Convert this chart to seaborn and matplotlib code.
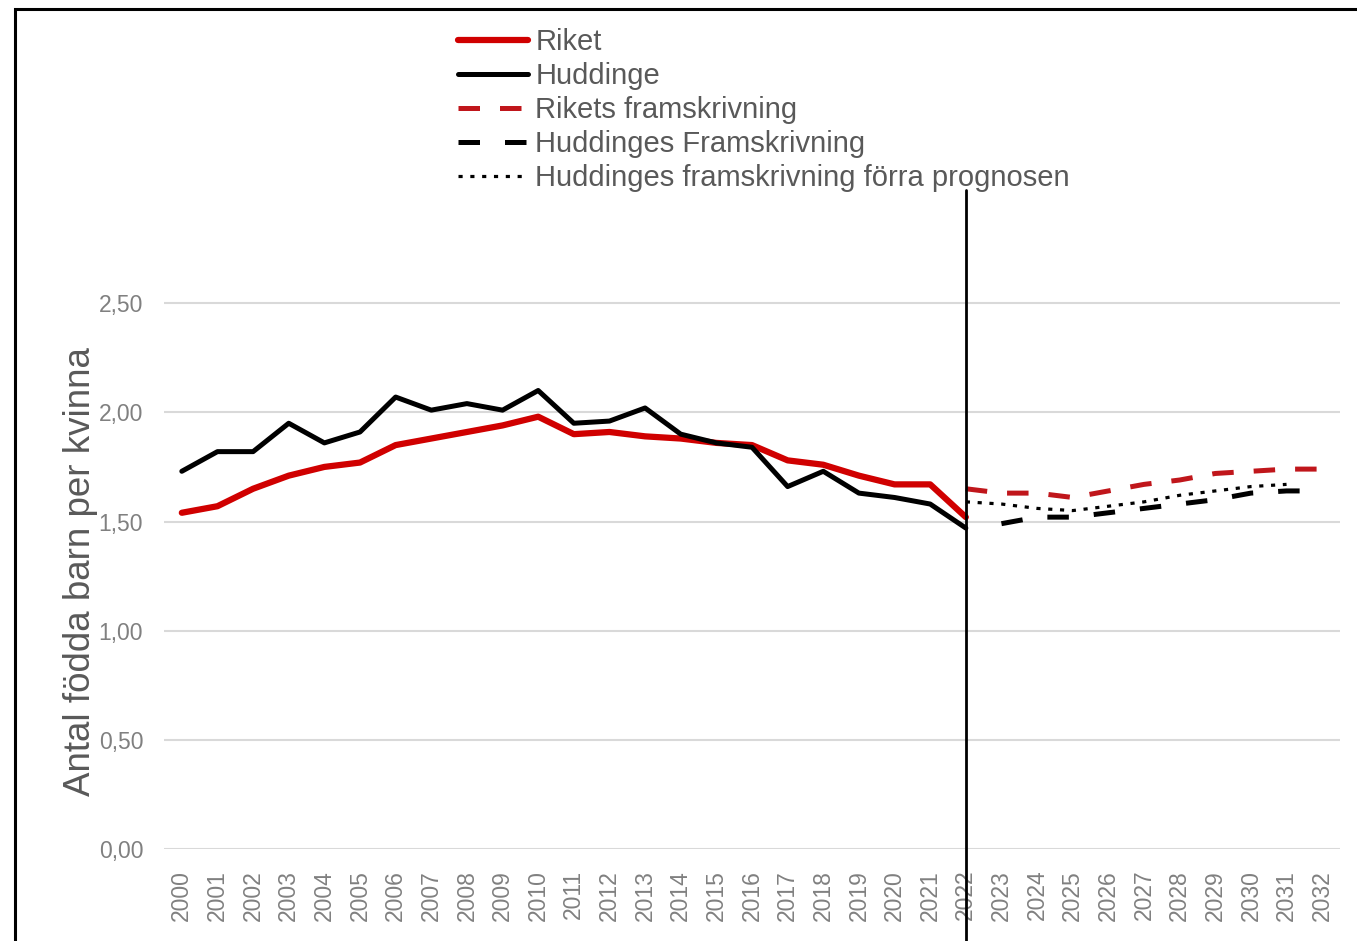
import numpy as np
import pandas as pd
import matplotlib
matplotlib.use("Agg")
import matplotlib.pyplot as plt
from matplotlib.patches import Rectangle
import seaborn as sns

# Summerad fruktsamhet, Riket och Huddinge
years_hist = list(range(2000, 2023))
riket = [1.54, 1.57, 1.65, 1.71, 1.75, 1.77, 1.85, 1.88, 1.91, 1.94, 1.98, 1.90,
         1.91, 1.89, 1.88, 1.86, 1.85, 1.78, 1.76, 1.71, 1.67, 1.67, 1.52]
huddinge = [1.73, 1.82, 1.82, 1.95, 1.86, 1.91, 2.07, 2.01, 2.04, 2.01, 2.10, 1.95,
            1.96, 2.02, 1.90, 1.86, 1.84, 1.66, 1.73, 1.63, 1.61, 1.58, 1.47]

years_riket_fs = list(range(2022, 2033))
riket_fs = [1.65, 1.63, 1.63, 1.61, 1.64, 1.67, 1.69, 1.72, 1.73, 1.74, 1.74]

years_hudd_fs = list(range(2023, 2033))
hudd_fs = [1.49, 1.52, 1.52, 1.54, 1.56, 1.58, 1.60, 1.63, 1.64, 1.64]

years_hudd_prev = list(range(2022, 2032))
hudd_prev = [1.59, 1.58, 1.56, 1.55, 1.57, 1.59, 1.62, 1.64, 1.66, 1.67]

all_years = list(range(2000, 2033))
y_ticks = [0.0, 0.5, 1.0, 1.5, 2.0, 2.5]
y_ticklabels = ["0,00", "0,50", "1,00", "1,50", "2,00", "2,50"]

sns.set_style("white")
plt.rcParams['font.family'] = ['Liberation Sans', 'DejaVu Sans']

fig = plt.figure(figsize=(13.57, 9.41), dpi=100)
ax = fig.add_axes([164 / 1357, 1 - 849 / 941, 1176 / 1357, 655 / 941])

red = '#D00000'
red_fs = '#C0161B'

sns.lineplot(x=years_hist, y=riket, ax=ax, color=red, linewidth=4.5, label='Riket')
sns.lineplot(x=years_hist, y=huddinge, ax=ax, color='black', linewidth=3.6, label='Huddinge')
sns.lineplot(x=years_riket_fs, y=riket_fs, ax=ax, color=red_fs, linewidth=3.6,
             label='Rikets framskrivning')
ax.lines[-1].set_dashes((4.3, 4.0))
sns.lineplot(x=years_hudd_fs, y=hudd_fs, ax=ax, color='black', linewidth=3.6,
             label='Huddinges Framskrivning')
ax.lines[-1].set_dashes((4.3, 5.0))
sns.lineplot(x=years_hudd_prev, y=hudd_prev, ax=ax, color='black', linewidth=2.3,
             label='Huddinges framskrivning förra prognosen')
ax.lines[-1].set_dashes((1.3, 2.4))

handles, labels = ax.get_legend_handles_labels()
if ax.legend_ is not None:
    ax.legend_.remove()

# vertical separator at the last observed year
ax.plot([2022, 2022], [-0.42, 3.02], color='black', linewidth=2.0, clip_on=False)

ax.set_xlim(1999.5, 2032.5)
ax.set_ylim(0, 3.0)
ax.set_xticks(all_years)
ax.set_xticklabels([str(y) for y in all_years], rotation=90)
ax.set_yticks(y_ticks)
ax.set_yticklabels(y_ticklabels)
ax.tick_params(axis='x', length=0, pad=15, labelsize=16.5, labelcolor='#808080')
ax.tick_params(axis='y', length=0, pad=15, labelsize=16.5, labelcolor='#808080')
ax.yaxis.grid(True, color='#D9D9D9', linewidth=1.5)
ax.xaxis.grid(False)
ax.set_axisbelow(True)
for s in ax.spines.values():
    s.set_visible(False)

ax.set_xlabel('')
ax.set_ylabel('Antal födda barn per kvinna', fontsize=26.5, color='#595959')
ax.yaxis.set_label_coords(-0.056, 0.423)

fig.legend(handles, labels, loc='upper left', bbox_to_anchor=(458 / 1357, 1 - 28.5 / 941),
           frameon=False, fontsize=21, labelcolor='#595959', handlelength=2.4,
           handletextpad=0.25, labelspacing=0.20, borderpad=0, borderaxespad=0)

# outer frame (left and top edges visible)
fig.add_artist(Rectangle((15 / 1357, -0.2), 2.0, 1.2 - 9 / 941, fill=False,
                         edgecolor='black', linewidth=2.2, transform=fig.transFigure))

fig.savefig('out.png', dpi=100)
